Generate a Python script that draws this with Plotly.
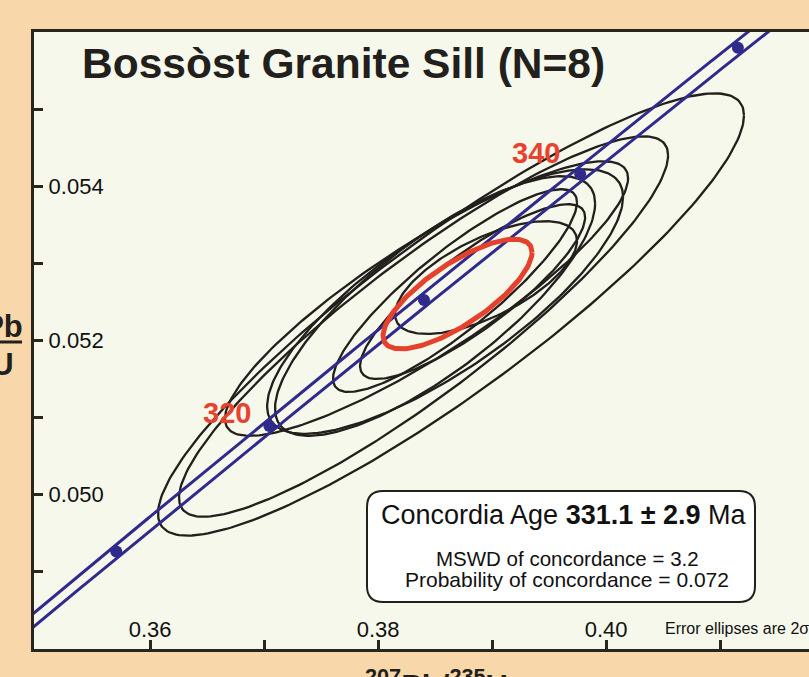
import numpy as np
import plotly.graph_objects as go

# ---------------- data ----------------
L238 = 1.55125e-10          # decay constants (1/yr)
L235 = 9.8485e-10
BAND = 0.0018               # relative half-width of decay-constant band

marker_ages = [310, 320, 330, 340, 350]   # Ma, dots on concordia
label_ages = [320, 340]
label_dx = [-42, -44]
label_dy = [13, 21]

# 2-sigma error ellipses: 207Pb/235U, 206Pb/238U, errors and correlation
ell_x = [0.38640, 0.38399, 0.38425, 0.38588, 0.38500, 0.38675, 0.38829, 0.38947]
ell_sx = [0.02570, 0.02145, 0.01768, 0.01561, 0.01404, 0.01070, 0.00987, 0.00798]
ell_y = [0.052337, 0.052181, 0.052544, 0.052505, 0.052447, 0.052647, 0.052634, 0.052816]
ell_sy = [0.002867, 0.002466, 0.001780, 0.001715, 0.001683, 0.001314, 0.001133, 0.000731]
ell_rho = [0.90, 0.90, 0.876, 0.79, 0.79, 0.87, 0.85, 0.65]

# concordia-age ellipse
conc_x, conc_sx = 0.38697, 0.006535
conc_y, conc_sy = 0.052602, 0.000712
conc_rho = 0.76

x_tick_vals = [0.35, 0.36, 0.37, 0.38, 0.39, 0.40, 0.41]
x_tick_text = ["", "0.36", "", "0.38", "", "0.40", ""]
y_tick_vals = [0.048, 0.049, 0.050, 0.051, 0.052, 0.053, 0.054, 0.055, 0.056]
y_tick_text = ["", "", "0.050", "", "0.052", "", "0.054", "", ""]

title_text = "Bossòst Granite Sill (N=8)"
age_line = "Concordia Age <b>331.1 ± 2.9</b> Ma"
mswd_line = "MSWD of concordance = 3.2"
prob_line = "Probability of concordance = 0.072"
note_text = "Error ellipses are 2σ"

# ---------------- layout helpers ----------------
W, H = 809, 677
ML, MR, MT, MB = 34, 0, 32, 28
PW, PH = W - ML - MR, H - MT - MB
FONT = "Liberation Sans, Arial, Helvetica, sans-serif"
INK = "#231F1C"
BLUE = "#2F2A8C"
RED = "#E5412D"
PEACH = "#F8D8AA"


def px(x):
    return (x - ML) / PW


def py(y):
    return (H - MB - y) / PH


def ellipse(cx, sx, cy, sy, rho, n=240):
    th = np.linspace(0, 2 * np.pi, n)
    x = cx + sx * np.cos(th)
    y = cy + sy * (rho * np.cos(th) + np.sqrt(1 - rho ** 2) * np.sin(th))
    return x, y


fig = go.Figure()

for cx, sx, cy, sy, r in zip(ell_x, ell_sx, ell_y, ell_sy, ell_rho):
    ex, ey = ellipse(cx, sx, cy, sy, r)
    fig.add_trace(go.Scatter(x=ex, y=ey, mode="lines",
                             line=dict(color=INK, width=2.3),
                             hoverinfo="skip", showlegend=False))

# concordia band
t = np.linspace(295e6, 362e6, 400)
yc = np.exp(L238 * t) - 1
for sgn in (-1, 1):
    xc = np.exp(L235 * (1 + sgn * BAND) * t) - 1
    fig.add_trace(go.Scatter(x=xc, y=yc, mode="lines",
                             line=dict(color=BLUE, width=3),
                             hoverinfo="skip", showlegend=False))

# concordia age ellipse
ex, ey = ellipse(conc_x, conc_sx, conc_y, conc_sy, conc_rho)
fig.add_trace(go.Scatter(x=ex, y=ey, mode="lines",
                         line=dict(color=RED, width=5),
                         hoverinfo="skip", showlegend=False))

# age markers
ta = np.array(marker_ages) * 1e6
fig.add_trace(go.Scatter(x=np.exp(L235 * ta) - 1, y=np.exp(L238 * ta) - 1,
                         mode="markers",
                         marker=dict(color=BLUE, size=12, symbol="circle"),
                         hoverinfo="skip", showlegend=False))

annotations = []
for a, dx, dy in zip(label_ages, label_dx, label_dy):
    annotations.append(dict(
        x=np.exp(L235 * a * 1e6) - 1, y=np.exp(L238 * a * 1e6) - 1,
        xref="x", yref="y", text=str(a), showarrow=False,
        xshift=dx, yshift=dy,
        font=dict(family=FONT, size=29, color="#E8412E", weight="bold")))

annotations += [
    dict(x=px(80), y=py(63), xref="paper", yref="paper", text=title_text,
         showarrow=False, xanchor="left", yanchor="middle",
         font=dict(family=FONT, size=42.5, color=INK, weight="bold")),
    dict(x=px(564), y=py(515), xref="paper", yref="paper", text=age_line,
         showarrow=False, xanchor="center", yanchor="middle",
         font=dict(family=FONT, size=27, color="#111")),
    dict(x=px(567), y=py(558), xref="paper", yref="paper", text=mswd_line,
         showarrow=False, xanchor="center", yanchor="middle",
         font=dict(family=FONT, size=20.5, color="#111")),
    dict(x=px(567), y=py(579), xref="paper", yref="paper", text=prob_line,
         showarrow=False, xanchor="center", yanchor="middle",
         font=dict(family=FONT, size=21, color="#111")),
    dict(x=px(663), y=py(628), xref="paper", yref="paper", text=note_text,
         showarrow=False, xanchor="left", yanchor="middle",
         font=dict(family=FONT, size=16, color="#111")),
    # y-axis title (fraction, mostly cut off)
    dict(x=px(-15), y=py(324), xref="paper", yref="paper",
         text="<sup>206</sup>Pb", showarrow=False, xanchor="center", yanchor="middle",
         font=dict(family=FONT, size=31, color=INK, weight="bold")),
    dict(x=px(-15), y=py(362), xref="paper", yref="paper",
         text="<sup>238</sup>U", showarrow=False, xanchor="center", yanchor="middle",
         font=dict(family=FONT, size=31, color=INK, weight="bold")),
    # x-axis title (cut off at the bottom)
    dict(x=px(436), y=py(662), xref="paper", yref="paper",
         text="<sup>207</sup>Pb/<sup>235</sup>U", showarrow=False,
         xanchor="center", yanchor="top",
         font=dict(family=FONT, size=31, color=INK, weight="bold")),
]

# rounded box
bx0, bx1, by0, by1, rr = 367, 755, 491, 602, 16
path = (f"M {px(bx0 + rr)},{py(by0)} L {px(bx1 - rr)},{py(by0)} "
        f"Q {px(bx1)},{py(by0)} {px(bx1)},{py(by0 + rr)} "
        f"L {px(bx1)},{py(by1 - rr)} Q {px(bx1)},{py(by1)} {px(bx1 - rr)},{py(by1)} "
        f"L {px(bx0 + rr)},{py(by1)} Q {px(bx0)},{py(by1)} {px(bx0)},{py(by1 - rr)} "
        f"L {px(bx0)},{py(by0 + rr)} Q {px(bx0)},{py(by0)} {px(bx0 + rr)},{py(by0)} Z")
shapes = [
    dict(type="path", path=path, xref="paper", yref="paper",
         fillcolor="white", line=dict(color=INK, width=2), layer="above"),
    dict(type="line", xref="paper", yref="paper",
         x0=px(-52), x1=px(22), y0=py(342), y1=py(342),
         line=dict(color=INK, width=3)),
]

axis_common = dict(showline=True, linecolor="#2B2520", linewidth=3,
                   ticks="inside", ticklen=9, tickwidth=2.5, tickcolor="#2B2520",
                   ticklabelposition="inside", showgrid=False, zeroline=False,
                   tickfont=dict(family=FONT, size=22, color="#111"))

fig.update_layout(
    width=W, height=H,
    margin=dict(l=ML, r=MR, t=MT, b=MB, pad=0),
    paper_bgcolor=PEACH, plot_bgcolor="#F5F8EB",
    xaxis=dict(range=[0.34982, 0.34982 + PW / 11400], tickvals=x_tick_vals,
               ticktext=x_tick_text, mirror=True, **axis_common),
    yaxis=dict(range=[0.048, 0.056], tickvals=y_tick_vals,
               ticktext=y_tick_text, mirror=False, ticklabelstandoff=7,
               **axis_common),
    annotations=annotations, shapes=shapes, showlegend=False,
)

fig.write_html(
    "out.html",
    config={"displayModeBar": False},
    post_script=("document.documentElement.style.margin='0';"
                 "document.body.style.margin='0';"
                 "document.body.style.overflow='hidden';"
                 "document.body.style.background='" + PEACH + "';"),
)
